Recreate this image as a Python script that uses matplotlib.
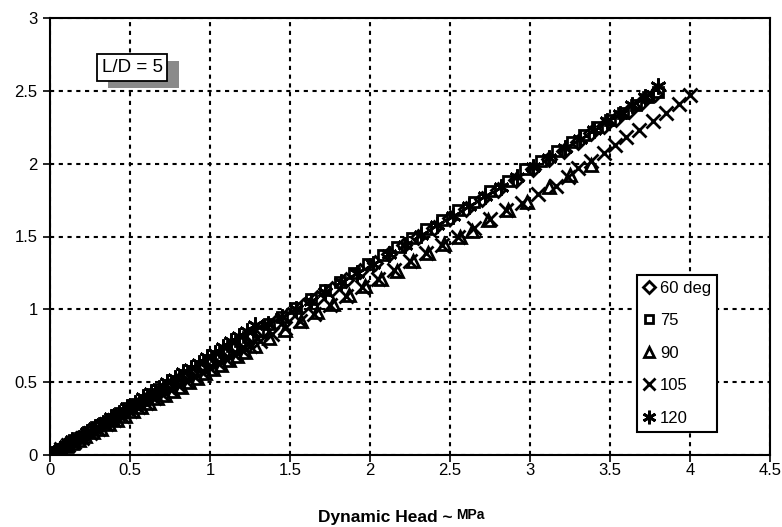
#!/usr/bin/env python3

import matplotlib
matplotlib.use("Agg")
import matplotlib.pyplot as plt
import matplotlib.patheffects as pe

plt.rcParams['font.family'] = ['Liberation Sans', 'DejaVu Sans']

# dynamic head (MPa) vs measured value, one series per angle
x60 = [0.02, 0.05, 0.09, 0.13, 0.17, 0.21, 0.26, 0.31, 0.36, 0.41,
       0.46, 0.51, 0.56, 0.61, 0.66, 0.71, 0.76, 0.81, 0.86, 0.91,
       0.96, 1.01, 1.06, 1.11, 1.16, 1.21, 1.26, 1.33, 1.41, 1.49,
       1.58, 1.67, 1.76, 1.85, 1.94, 2.03, 2.12, 2.21, 2.30, 2.40,
       2.50, 2.60, 2.70, 2.80, 2.91, 3.02, 3.12, 3.21, 3.30, 3.38,
       3.46, 3.54, 3.62, 3.70, 3.78]
y60 = [0.01, 0.03, 0.06, 0.08, 0.11, 0.13, 0.17, 0.20, 0.23, 0.26,
       0.29, 0.33, 0.36, 0.39, 0.42, 0.45, 0.49, 0.52, 0.55, 0.58,
       0.61, 0.64, 0.68, 0.71, 0.74, 0.78, 0.81, 0.86, 0.91, 0.96,
       1.02, 1.08, 1.14, 1.20, 1.26, 1.32, 1.38, 1.44, 1.50, 1.56,
       1.63, 1.69, 1.76, 1.82, 1.89, 1.96, 2.03, 2.09, 2.15, 2.21,
       2.26, 2.31, 2.36, 2.42, 2.48]

x75 = [0.03, 0.07, 0.11, 0.15, 0.19, 0.24, 0.29, 0.34, 0.39, 0.44,
       0.49, 0.54, 0.59, 0.64, 0.69, 0.74, 0.79, 0.84, 0.89, 0.94,
       0.99, 1.04, 1.09, 1.14, 1.19, 1.24, 1.30, 1.37, 1.45, 1.54,
       1.63, 1.72, 1.81, 1.90, 1.99, 2.08, 2.17, 2.26, 2.35, 2.45,
       2.55, 2.65, 2.75, 2.86, 2.97, 3.07, 3.17, 3.26, 3.34, 3.42,
       3.50, 3.58, 3.66, 3.74, 3.80]
y75 = [0.02, 0.04, 0.07, 0.10, 0.12, 0.16, 0.19, 0.22, 0.25, 0.29,
       0.32, 0.35, 0.38, 0.42, 0.45, 0.48, 0.51, 0.55, 0.58, 0.61,
       0.65, 0.68, 0.71, 0.75, 0.78, 0.81, 0.85, 0.90, 0.95, 1.01,
       1.07, 1.13, 1.19, 1.25, 1.31, 1.37, 1.43, 1.49, 1.55, 1.61,
       1.68, 1.74, 1.81, 1.88, 1.96, 2.02, 2.09, 2.15, 2.20, 2.25,
       2.30, 2.35, 2.40, 2.46, 2.49]

x90 = [0.02, 0.06, 0.10, 0.14, 0.18, 0.22, 0.27, 0.32, 0.37, 0.42,
       0.47, 0.52, 0.57, 0.62, 0.67, 0.72, 0.77, 0.82, 0.87, 0.92,
       0.97, 1.02, 1.07, 1.12, 1.17, 1.22, 1.28, 1.37, 1.47, 1.57,
       1.67, 1.77, 1.87, 1.97, 2.07, 2.17, 2.27, 2.36, 2.46, 2.56,
       2.64, 2.74, 2.86, 2.98, 3.12, 3.25, 3.38]
y90 = [0.01, 0.03, 0.06, 0.08, 0.10, 0.13, 0.16, 0.18, 0.21, 0.24,
       0.27, 0.30, 0.33, 0.36, 0.39, 0.41, 0.44, 0.47, 0.50, 0.53,
       0.56, 0.59, 0.62, 0.65, 0.68, 0.71, 0.75, 0.80, 0.86, 0.92,
       0.98, 1.04, 1.10, 1.16, 1.21, 1.26, 1.33, 1.39, 1.45, 1.50,
       1.54, 1.61, 1.68, 1.74, 1.84, 1.92, 1.99]

x105 = [0.03, 0.07, 0.11, 0.15, 0.20, 0.25, 0.30, 0.35, 0.40, 0.45,
        0.50, 0.55, 0.60, 0.65, 0.70, 0.75, 0.80, 0.85, 0.90, 0.95,
        1.00, 1.05, 1.10, 1.15, 1.20, 1.25, 1.31, 1.39, 1.47, 1.56,
        1.65, 1.75, 1.85, 1.95, 2.05, 2.15, 2.25, 2.35, 2.45, 2.55,
        2.65, 2.75, 2.85, 2.95, 3.05, 3.16, 3.24, 3.30, 3.38, 3.46,
        3.53, 3.60, 3.68, 3.77, 3.85, 3.93, 4.00]
y105 = [0.02, 0.04, 0.07, 0.09, 0.12, 0.15, 0.18, 0.21, 0.24, 0.27,
        0.30, 0.33, 0.36, 0.39, 0.42, 0.45, 0.48, 0.51, 0.54, 0.57,
        0.60, 0.63, 0.66, 0.69, 0.72, 0.75, 0.78, 0.83, 0.87, 0.92,
        0.97, 1.03, 1.09, 1.15, 1.21, 1.27, 1.33, 1.39, 1.44, 1.50,
        1.56, 1.62, 1.68, 1.73, 1.79, 1.85, 1.91, 1.97, 2.02, 2.07,
        2.13, 2.18, 2.23, 2.29, 2.35, 2.41, 2.47]

x120 = [0.02, 0.06, 0.10, 0.14, 0.18, 0.23, 0.28, 0.33, 0.38, 0.43,
        0.48, 0.53, 0.58, 0.63, 0.68, 0.73, 0.78, 0.83, 0.88, 0.93,
        0.98, 1.03, 1.08, 1.13, 1.18, 1.23, 1.28, 1.36, 1.45, 1.54,
        1.63, 1.72, 1.82, 1.92, 2.02, 2.12, 2.22, 2.32, 2.42, 2.52,
        2.62, 2.72, 2.82, 2.92, 3.02, 3.12, 3.22, 3.31, 3.40, 3.48,
        3.56, 3.64, 3.72, 3.80]
y120 = [0.01, 0.04, 0.07, 0.10, 0.12, 0.16, 0.19, 0.22, 0.26, 0.29,
        0.33, 0.36, 0.40, 0.43, 0.46, 0.50, 0.53, 0.57, 0.60, 0.63,
        0.67, 0.70, 0.74, 0.78, 0.82, 0.85, 0.89, 0.90, 0.95, 1.00,
        1.06, 1.12, 1.19, 1.25, 1.31, 1.38, 1.44, 1.51, 1.58, 1.64,
        1.71, 1.78, 1.84, 1.91, 1.98, 2.04, 2.11, 2.17, 2.23, 2.29,
        2.34, 2.40, 2.46, 2.53]

labels = ['60 deg', '75', '90', '105', '120']
xticks = [0, 0.5, 1, 1.5, 2, 2.5, 3, 3.5, 4, 4.5]
yticks = [0, 0.5, 1, 1.5, 2, 2.5, 3]


def main():
    fig = plt.figure(figsize=(7.82, 5.27), dpi=100)
    ax = fig.add_axes([50 / 782, 72 / 527, 720 / 782, 437 / 527])

    series = [(x60, y60, 'D', 7.0), (x75, y75, 's', 6.5), (x90, y90, '^', 9.0),
              (x105, y105, 'x', 10.5), (x120, y120, (6, 2, 0), 11.5)]
    for (xs, ys, mk, ms), lab in zip(series, labels):
        ax.plot(xs, ys, linestyle='none', marker=mk, ms=ms, mfc='none',
                mec='black', mew=2.0, label=lab, zorder=3)

    ax.set_xlim(0, 4.5)
    ax.set_ylim(0, 3)
    ax.set_xticks(xticks)
    ax.set_xticklabels(['0', '0.5', '1', '1.5', '2', '2.5', '3', '3.5', '4', '4.5'])
    ax.set_yticks(yticks)
    ax.set_yticklabels(['0', '0.5', '1', '1.5', '2', '2.5', '3'])
    ax.tick_params(direction='out', length=5, width=1.2, labelsize=12)
    ax.tick_params(axis='x', pad=1)
    ax.tick_params(axis='y', pad=4)
    ax.grid(True, color='black', linestyle=(0, (2, 2.2)), linewidth=1.5)
    ax.set_axisbelow(True)
    for s in ax.spines.values():
        s.set_linewidth(1.5)

    leg = ax.legend(loc='upper right', bbox_to_anchor=(0.926, 0.412),
                    fontsize=12, frameon=True, fancybox=False, edgecolor='black',
                    framealpha=1, handlelength=0.7, handletextpad=0.3,
                    labelspacing=1.05, borderpad=0.35, borderaxespad=0,
                    markerscale=0.85)
    leg.get_frame().set_linewidth(1.5)

    t = ax.text(0.514, 2.66, 'L/D = 5', ha='center', va='center', fontsize=13.5,
                bbox=dict(boxstyle='square,pad=0.25', fc='white', ec='black', lw=1.3),
                zorder=6)
    t.get_bbox_patch().set_path_effects([
        pe.SimplePatchShadow(offset=(8, -5), shadow_rgbFace='#8a8a8a', alpha=1),
        pe.Normal()])

    fig.text(318 / 782, 2 / 527, 'Dynamic Head ~', fontsize=12.5,
             fontweight='bold', ha='left', va='bottom')
    fig.text(456 / 782, 5 / 527, 'MPa', fontsize=10, fontweight='bold',
             ha='left', va='bottom')

    fig.savefig('out.png', dpi=100)


if __name__ == "__main__":
    main()
